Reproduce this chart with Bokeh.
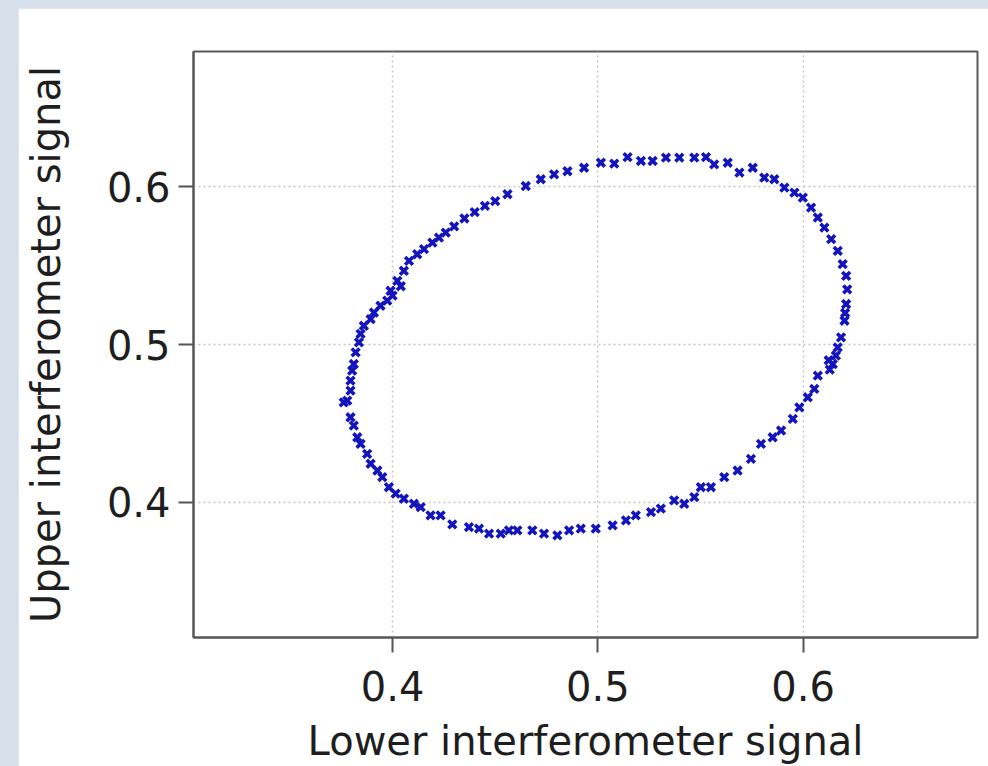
from bokeh.plotting import figure
from bokeh.models import Range1d, FixedTicker
from bokeh.layouts import column
from bokeh.embed import file_html
from bokeh.resources import INLINE

# Data: (lower interferometer signal, upper interferometer signal)
lower = [
    0.4259, 0.4300, 0.4350, 0.4400, 0.4450, 0.4500, 0.4560, 0.4649, 0.4722, 0.4787,
    0.4852, 0.4933, 0.5015, 0.5080, 0.5145, 0.5210, 0.5267, 0.5332, 0.5397, 0.5470,
    0.5527, 0.5567, 0.5633, 0.5690, 0.5755, 0.5811, 0.5860, 0.5909, 0.5958, 0.5999,
    0.6039, 0.6072, 0.6104, 0.6137, 0.6169, 0.6193, 0.6210, 0.6215, 0.6210, 0.6202,
    0.6185, 0.6169, 0.6145, 0.6072, 0.6055, 0.6023, 0.5982, 0.5950, 0.5893, 0.5852,
    0.5795, 0.5746, 0.5681, 0.5616, 0.5551, 0.5502, 0.5470, 0.5421, 0.5372, 0.5307,
    0.5259, 0.5185, 0.5137, 0.5072, 0.4990, 0.4917, 0.4860, 0.4803, 0.4738, 0.4681,
    0.4608, 0.4567, 0.4527, 0.4470, 0.4421, 0.4372, 0.4291, 0.4234, 0.4185, 0.4137,
    0.4104, 0.4055, 0.4015, 0.3982, 0.3950, 0.3926, 0.3893, 0.3876, 0.3844, 0.3828,
    0.3811, 0.3795, 0.3779, 0.3762, 0.3795, 0.3795, 0.3803, 0.3811, 0.3820, 0.3836,
    0.3844, 0.3860, 0.3893, 0.3909, 0.3941, 0.3974, 0.3990, 0.4023, 0.4055, 0.4080,
    0.4120, 0.4153, 0.4194, 0.4226, 0.6160, 0.6130, 0.6205, 0.6125, 0.4000, 0.4040,
]
upper = [
    0.5710, 0.5750, 0.5800, 0.5840, 0.5880, 0.5910, 0.5954, 0.6006, 0.6049, 0.6080,
    0.6100, 0.6122, 0.6154, 0.6148, 0.6190, 0.6165, 0.6165, 0.6186, 0.6186, 0.6186,
    0.6190, 0.6144, 0.6154, 0.6091, 0.6122, 0.6059, 0.6049, 0.5996, 0.5964, 0.5932,
    0.5869, 0.5806, 0.5742, 0.5669, 0.5594, 0.5510, 0.5436, 0.5350, 0.5257, 0.5151,
    0.5045, 0.4982, 0.4876, 0.4802, 0.4718, 0.4665, 0.4601, 0.4528, 0.4454, 0.4411,
    0.4369, 0.4274, 0.4200, 0.4158, 0.4094, 0.4094, 0.4031, 0.3989, 0.4010, 0.3958,
    0.3936, 0.3915, 0.3883, 0.3852, 0.3831, 0.3831, 0.3820, 0.3788, 0.3799, 0.3820,
    0.3820, 0.3820, 0.3799, 0.3799, 0.3831, 0.3841, 0.3858, 0.3915, 0.3915, 0.3968,
    0.3989, 0.4021, 0.4053, 0.4094, 0.4158, 0.4200, 0.4243, 0.4306, 0.4369, 0.4411,
    0.4485, 0.4538, 0.4644, 0.4633, 0.4707, 0.4771, 0.4834, 0.4876, 0.4950, 0.5013,
    0.5067, 0.5119, 0.5161, 0.5203, 0.5246, 0.5278, 0.5341, 0.5404, 0.5468, 0.5531,
    0.5573, 0.5605, 0.5647, 0.5679, 0.4930, 0.4840, 0.5200, 0.4900, 0.5310, 0.5370,
]
ticks = [0.4, 0.5, 0.6]
x_label = "Lower interferometer signal"
y_label = "Upper interferometer signal"

FONT = "DejaVu Sans"

p = figure(
    frame_width=784, frame_height=586,
    x_range=Range1d(0.303, 0.685), y_range=Range1d(0.314, 0.686),
    output_backend="svg", toolbar_location=None,
    min_border_left=175, min_border_right=11, min_border_top=43, min_border_bottom=0,
    background_fill_color="white", border_fill_color="white",
)
p.margin = (8, 0, 0, 18)

p.scatter(lower, upper, marker="x", size=11, line_width=3.6, line_color="#1414bc")

for ax in (p.xaxis[0], p.yaxis[0]):
    ax.ticker = FixedTicker(ticks=ticks)
    ax.minor_tick_line_color = None
    ax.major_tick_in = 0
    ax.major_tick_out = 15
    ax.major_tick_line_color = "#555555"
    ax.major_tick_line_width = 2
    ax.axis_line_color = "#555555"
    ax.axis_line_width = 2
    ax.major_label_text_font = FONT
    ax.major_label_text_font_size = "40px"
    ax.major_label_text_color = "#1e1e1e"
    ax.axis_label_text_font = FONT
    ax.axis_label_text_font_size = "40px"
    ax.axis_label_text_font_style = "normal"
    ax.axis_label_text_color = "#1e1e1e"

p.xaxis[0].axis_label = x_label
p.yaxis[0].axis_label = y_label
p.xaxis[0].major_label_standoff = 18
p.xaxis[0].axis_label_standoff = 14
p.yaxis[0].major_label_standoff = 8
p.yaxis[0].axis_label_standoff = 35

for g in (p.xgrid[0], p.ygrid[0]):
    g.ticker = FixedTicker(ticks=ticks)
    g.grid_line_color = "#c4c4c4"
    g.grid_line_dash = "2 3"
    g.grid_line_width = 1.5

p.outline_line_color = "#5a5a5a"
p.outline_line_width = 2

root = column(p, styles={"background-color": "#d6dfea", "overflow": "hidden"},
              width=988, height=766)

open("out.html", "w").write(file_html(root, INLINE))
